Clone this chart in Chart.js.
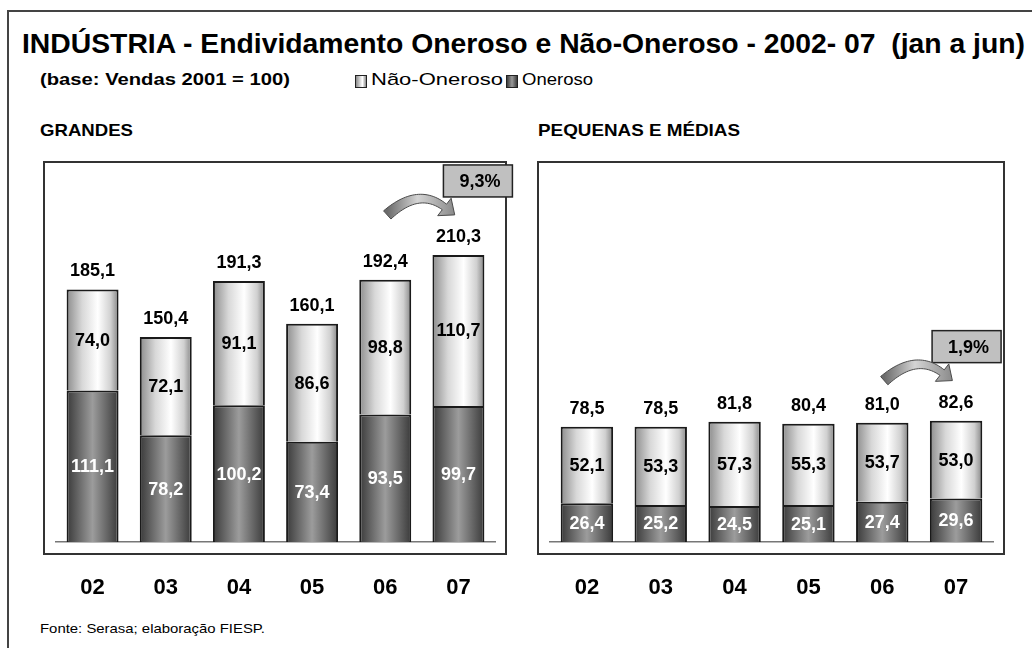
<!DOCTYPE html>
<html><head><meta charset="utf-8">
<script src="https://cdn.jsdelivr.net/npm/chart.js@4.4.0/dist/chart.umd.min.js"></script>
<style>
html,body{margin:0;padding:0;background:#fff;}
body{width:1032px;height:648px;position:relative;overflow:hidden;font-family:"Liberation Sans",Arial,sans-serif;}
.frame{position:absolute;left:7px;top:10px;width:1100px;height:800px;border-top:2px solid #444;border-left:2px solid #444;}
.t{position:absolute;white-space:pre;transform-origin:0 50%;line-height:1;color:#000;}
canvas{position:absolute;left:0;top:0;}
.sw{position:absolute;width:10px;height:11px;border:1px solid #222;}
</style></head><body>
<div class="frame"></div>
<div class="t" data-w="1003" style="left:22px;top:30px;font-size:28px;font-weight:bold;">INDÚSTRIA - Endividamento Oneroso e Não-Oneroso - 2002- 07  (jan a jun)</div>
<div class="t" data-w="250" style="left:40px;top:71px;font-size:17px;font-weight:bold;">(base: Vendas 2001 = 100)</div>
<div class="sw" style="left:355px;top:75px;background:linear-gradient(90deg,#8a8a8a,#f0f0f0 55%,#fff 65%,#8a8a8a);"></div>
<div class="t" data-w="132" style="left:371px;top:71px;font-size:17px;">Não-Oneroso</div>
<div class="sw" style="left:506px;top:75px;background:linear-gradient(90deg,#3c3c3c,#9a9a9a 50%,#3c3c3c);"></div>
<div class="t" data-w="71" style="left:522px;top:71px;font-size:17px;">Oneroso</div>
<div class="t" data-w="93" style="left:40px;top:122px;font-size:17px;font-weight:bold;">GRANDES</div>
<div class="t" data-w="202" style="left:538px;top:122px;font-size:17px;font-weight:bold;">PEQUENAS E MÉDIAS</div>
<div class="t" data-w="225" style="left:40px;top:622px;font-size:13px;">Fonte: Serasa; elaboração FIESP.</div>
<canvas id="c1" width="1032" height="648"></canvas>
<canvas id="c2" width="1032" height="648"></canvas>
<script>
// ---- data ----
const categories = ['02','03','04','05','06','07'];
const grandesOneroso    = [111.1, 78.2, 100.2, 73.4, 93.5, 99.7];
const grandesNaoOneroso = [74.0, 72.1, 91.1, 86.6, 98.8, 110.7];
const grandesTotal      = [185.1, 150.4, 191.3, 160.1, 192.4, 210.3];
const grandesGrowth     = '9,3%';
const pmeOneroso        = [26.4, 25.2, 24.5, 25.1, 27.4, 29.6];
const pmeNaoOneroso     = [52.1, 53.3, 57.3, 55.3, 53.7, 53.0];
const pmeTotal          = [78.5, 78.5, 81.8, 80.4, 81.0, 82.6];
const pmeGrowth         = '1,9%';

// fit texts horizontally
document.querySelectorAll('.t[data-w]').forEach(el => {
  const w = el.getBoundingClientRect().width;
  el.style.transform = 'scaleX(' + (parseFloat(el.dataset.w) / w) + ')';
});

const FONT = '"Liberation Sans", Arial, sans-serif';
const fmt = v => v.toFixed(1).replace('.', ',');
const BAR_PCT = 0.71;
const lightStops = [[0,'#8c8c8c'],[0.3,'#d8d8d8'],[0.6,'#ffffff'],[0.85,'#d0d0d0'],[1,'#858585']];
const darkStops  = [[0,'#3a3a3a'],[0.5,'#9c9c9c'],[1,'#3a3a3a']];

function gradFill(stops, fallback) {
  return (c) => {
    const chart = c.chart;
    if (!chart.chartArea || c.dataIndex === undefined) return fallback;
    const xs = chart.scales.x;
    const cx = xs.getPixelForValue(c.dataIndex);
    const half = xs.width / categories.length * BAR_PCT / 2;
    const g = chart.ctx.createLinearGradient(cx - half, 0, cx + half, 0);
    stops.forEach(s => g.addColorStop(s[0], s[1]));
    return g;
  };
}

const labelPlugin = {
  id: 'vals',
  afterDatasetsDraw(chart, args, opts) {
    const ctx = chart.ctx;
    ctx.save();
    ctx.font = 'bold 18px ' + FONT;
    ctx.textAlign = 'center';
    ctx.textBaseline = 'middle';
    const d0 = chart.data.datasets[0].data, d1 = chart.data.datasets[1].data;
    chart.getDatasetMeta(0).data.forEach((el, i) => {
      ctx.fillStyle = '#fff';
      ctx.fillText(fmt(d0[i]), el.x, (el.y + el.base) / 2 + 1);
    });
    chart.getDatasetMeta(1).data.forEach((el, i) => {
      ctx.fillStyle = '#000';
      ctx.fillText(fmt(d1[i]), el.x, (el.y + el.base) / 2 + 1);
      ctx.fillText(fmt(opts.totals[i]), el.x, el.y - 18);
    });
    ctx.restore();
  }
};

const panelPlugin = {
  id: 'panel',
  beforeDraw(chart) {
    const a = chart.chartArea, ctx = chart.ctx;
    ctx.save();
    ctx.strokeStyle = '#333';
    ctx.lineWidth = 2;
    ctx.strokeRect(a.left - 12, a.top + 2, a.right - a.left + 23, a.bottom - a.top + 10);
    ctx.restore();
  },
  afterDraw(chart, args, opts) {
    const ctx = chart.ctx;
    const m = chart.getDatasetMeta(1);
    const e4 = m.data[4], e5 = m.data[5];
    const top = e5.y;
    // growth box
    const bx = e5.x + opts.boxDx, by = top - 90, bw = 69, bh = 32;
    ctx.save();
    ctx.fillStyle = '#c0c0c0';
    ctx.strokeStyle = '#222';
    ctx.lineWidth = 1.5;
    ctx.fillRect(bx, by, bw, bh);
    ctx.strokeRect(bx, by, bw, bh);
    ctx.fillStyle = '#000';
    ctx.font = 'bold 18px ' + FONT;
    ctx.textAlign = 'center';
    ctx.textBaseline = 'middle';
    ctx.fillText(opts.growth, bx + bw / 2 + 2, by + bh / 2 + 1);
    // curved arrow
    const S = {x: e4.x + 2, y: top - 40};
    const C = {x: e5.x - 40, y: top - 68};
    const E = {x: e5.x - 14, y: top - 48};
    const N = 30, left = [], right = [];
    for (let k = 0; k <= N; k++) {
      const t = k / N, u = 1 - t;
      const px = u*u*S.x + 2*u*t*C.x + t*t*E.x;
      const py = u*u*S.y + 2*u*t*C.y + t*t*E.y;
      const dx = 2*u*(C.x - S.x) + 2*t*(E.x - C.x);
      const dy = 2*u*(C.y - S.y) + 2*t*(E.y - C.y);
      const L = Math.hypot(dx, dy);
      const nx = -dy / L, ny = dx / L;
      const w = (11 - 4 * t) / 2;
      left.push([px + nx * w, py + ny * w]);
      right.push([px - nx * w, py - ny * w]);
    }
    const tdx = E.x - C.x, tdy = E.y - C.y, tl = Math.hypot(tdx, tdy);
    const tx = tdx / tl, ty = tdy / tl, nx = -ty, ny = tx;
    const tip = [E.x + tx * 13, E.y + ty * 13];
    const b1 = [E.x + nx * 11, E.y + ny * 11], b2 = [E.x - nx * 11, E.y - ny * 11];
    const g = ctx.createLinearGradient(S.x, 0, tip[0], 0);
    g.addColorStop(0, '#6a6a6a'); g.addColorStop(0.45, '#d4d4d4'); g.addColorStop(1, '#8a8a8a');
    ctx.beginPath();
    ctx.moveTo(left[0][0], left[0][1]);
    left.forEach(p => ctx.lineTo(p[0], p[1]));
    ctx.lineTo(b1[0], b1[1]);
    ctx.lineTo(tip[0], tip[1]);
    ctx.lineTo(b2[0], b2[1]);
    for (let k = right.length - 1; k >= 0; k--) ctx.lineTo(right[k][0], right[k][1]);
    ctx.closePath();
    ctx.fillStyle = g;
    ctx.fill();
    ctx.strokeStyle = '#4a4a4a';
    ctx.lineWidth = 1;
    ctx.stroke();
    ctx.restore();
  }
};

function makeChart(id, onerosoData, naoData, totals, growth, yMax, padL, padR, boxDx) {
  return new Chart(document.getElementById(id), {
    type: 'bar',
    data: {
      labels: categories,
      datasets: [
        { label: 'Oneroso', data: onerosoData, backgroundColor: gradFill(darkStops, '#777'),
          borderColor: '#1a1a1a', borderWidth: 2, barPercentage: BAR_PCT, categoryPercentage: 1 },
        { label: 'Não-Oneroso', data: naoData, backgroundColor: gradFill(lightStops, '#ddd'),
          borderColor: '#1a1a1a', borderWidth: 2, barPercentage: BAR_PCT, categoryPercentage: 1 }
      ]
    },
    options: {
      responsive: false,
      animation: false,
      devicePixelRatio: 1,
      layout: { padding: { left: padL, right: padR, top: 160, bottom: 13.6 } },
      plugins: {
        legend: { display: false },
        tooltip: { enabled: false },
        vals: { totals: totals },
        panel: { growth: growth, boxDx: boxDx }
      },
      scales: {
        x: {
          stacked: true,
          grid: { display: false, drawTicks: false },
          border: { display: true, color: '#777', width: 1.5 },
          ticks: { color: '#000', font: { family: FONT, size: 22, weight: 'bold' }, padding: 33, maxRotation: 0 }
        },
        y: { stacked: true, display: false, min: 0, max: yMax }
      }
    },
    plugins: [panelPlugin, labelPlugin]
  });
}

makeChart('c1', grandesOneroso, grandesNaoOneroso, grandesTotal, grandesGrowth, 280, 56, 537, -15);
makeChart('c2', pmeOneroso, pmeNaoOneroso, pmeTotal, pmeGrowth, 260, 550, 39, -24);
</script>
</body></html>
